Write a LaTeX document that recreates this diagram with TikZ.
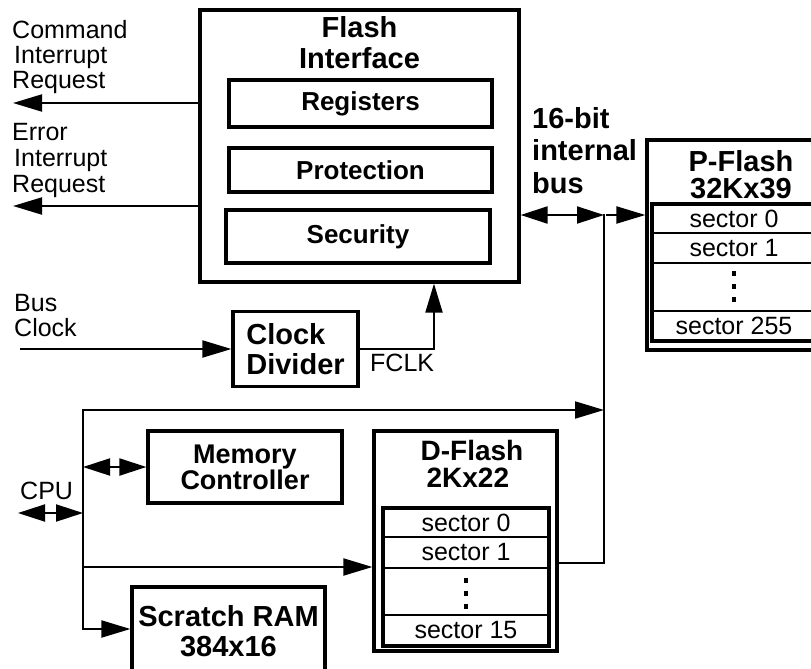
\documentclass[tikz,border=0pt]{standalone}
\usepackage{fontspec}
\setmainfont{Liberation Sans}
\usetikzlibrary{arrows.meta,positioning,fit}
\tikzset{
  blk/.style={draw,line width=3.2pt,inner sep=0pt,align=center,font=\bfseries\fontsize{29}{30}\selectfont},
  regblk/.style={blk,minimum width=263pt,font=\bfseries\fontsize{26}{27}\selectfont},
  secnode/.style={draw,line width=2.3pt,inner sep=0pt,font=\fontsize{25}{25}\selectfont},
  inbox/.style={draw,line width=2.8pt,inner sep=0pt},
  ttl/.style={inner sep=0pt,align=center,font=\bfseries\fontsize{29}{31}\selectfont},
  lbl/.style={inner sep=0pt,align=left,font=\fontsize{25}{25}\selectfont},
  wire/.style={line width=2pt,line cap=rect},
  arr/.style={wire,-{Triangle[length=29pt,width=17pt]}},
  dblarr/.style={wire,{Triangle[length=27pt,width=17pt]}-{Triangle[length=27pt,width=17pt]}},
  vdots/.style={line width=4.5pt,dash pattern=on 5pt off 8pt},
}
\begin{document}
\begin{tikzpicture}[x=1pt,y=-1pt]
  \useasboundingbox (0,0) rectangle (811,669);
  \clip (0,0) rectangle (811,669);
  % flash interface
  \node[blk,minimum width=319pt,minimum height=272pt] (fi) at (359.5,146) {};
  \node[ttl,below=8pt of fi.north] (fititle) {Flash\\Interface};
  \node[regblk,minimum height=47pt] (reg) at (360.5,103.5) {Registers};
  \node[regblk,minimum height=44pt] (prot) at (360.5,170) {Protection};
  \node[regblk,minimum width=264pt,minimum height=53pt] (sec) at (358,236.5) {Security};
  \coordinate (cirq) at (13,103);
  \coordinate (eirq) at (13,206);
  \node[lbl,anchor=north west] (cirqlbl) at (12,20) {Command\\\hspace*{2pt}Interrupt\\Request};
  \node[lbl,anchor=north west,font=\fontsize{25}{26}\selectfont] (eirqlbl) at (12,123) {Error\\\hspace*{2pt}Interrupt\\Request};
  \draw[arr] (fi.west |- cirq) -- (cirq);
  \draw[arr] (fi.west |- eirq) -- (eirq);
  % clock
  \node[blk,minimum width=125pt,minimum height=75pt,align=left] (cd) at (295.5,349) {Clock\\Divider};
  \coordinate (busclk) at (21,349);
  \node[lbl,anchor=north west] (busclklbl) at (14,294) {Bus\\Clock};
  \draw[arr] (busclk) -- (cd.west);
  \coordinate (fclk) at (434,349);
  \draw[arr] (cd.east) -- (fclk) -- (fclk |- fi.south);
  \node[lbl,anchor=north west] (fclklbl) at (370,354) {FCLK};
  % internal bus
  \coordinate (bus) at (604,215);
  \node[ttl,align=left,anchor=north west,font=\bfseries\fontsize{29}{32.5}\selectfont] (buslbl) at (532,107) {16-bit\\internal\\bus};
  \draw[dblarr] (fi.east |- bus) -- (bus);
  % P-Flash
  \node[blk,minimum width=174pt,minimum height=210pt] (pf) at (734,245) {};
  \node[ttl,font=\bfseries\fontsize{29}{27}\selectfont,below=12pt of pf.north,xshift=7pt] (pftitle) {P-Flash\\32Kx39};
  \node[secnode,minimum width=162pt,minimum height=28pt] (ps0) at (734,219) {sector 0};
  \node[secnode,minimum width=162pt,minimum height=30pt] (ps1) at (734,248) {sector 1};
  \node[secnode,minimum width=162pt,minimum height=48pt] (psdots) at (734,287) {};
  \node[secnode,minimum width=162pt,minimum height=29pt] (ps255) at (734,325.5) {sector 255};
  \node[inbox,fit=(ps0)(ps255)] (pfin) {};
  \draw[vdots] ([yshift=16pt]psdots.center) -- ([yshift=-15pt]psdots.center);
  \draw[arr] ([xshift=3pt]bus) -- (bus -| pf.west);
  % CPU side
  \coordinate (cputop) at (83,410);
  \coordinate (cpubot) at (83,629);
  \coordinate (cpu) at (18,513);
  \coordinate (cpumc) at (83,467);
  \coordinate (cpudf) at (83,567);
  \node[lbl,anchor=north west] (cpulbl) at (20,482) {CPU};
  \node[blk,minimum width=194pt,minimum height=72pt,font=\bfseries\fontsize{27}{26}\selectfont] (mc) at (245,467) {Memory\\Controller};
  \node[blk,minimum width=193pt,minimum height=88pt] (sr) at (228.5,631) {Scratch RAM\\384x16};
  % D-Flash
  \node[blk,minimum width=183pt,minimum height=220pt] (df) at (465.5,541) {};
  \node[ttl,align=left,font=\bfseries\fontsize{28}{27}\selectfont,below right=11pt and 48pt of df.north west] (dftitle) {D-Flash\\\hspace*{6pt}2Kx22};
  \node[secnode,minimum width=164pt,minimum height=28pt] (ds0) at (466,523) {sector 0};
  \node[secnode,minimum width=164pt,minimum height=31pt] (ds1) at (466,552.5) {sector 1};
  \node[secnode,minimum width=164pt,minimum height=47pt] (dsdots) at (466,591.5) {};
  \node[secnode,minimum width=164pt,minimum height=30pt] (ds15) at (466,630) {sector 15};
  \node[inbox,fit=(ds0)(ds15)] (dfin) {};
  \draw[vdots] ([yshift=14pt]dsdots.center) -- ([yshift=-17pt]dsdots.center);
  \draw[arr] (cputop) -- (cputop -| bus);
  \draw[arr] (cputop) -- (cpubot) -- (cpubot -| sr.west);
  \draw[dblarr] (cpumc) -- (mc.west);
  \draw[dblarr] (cpu) -- (cpu -| cputop);
  \draw[arr] (cpudf) -- (cpudf -| df.west);
  \draw[wire] ([yshift=-22pt]df.east) -| (bus);
\end{tikzpicture}
\end{document}
